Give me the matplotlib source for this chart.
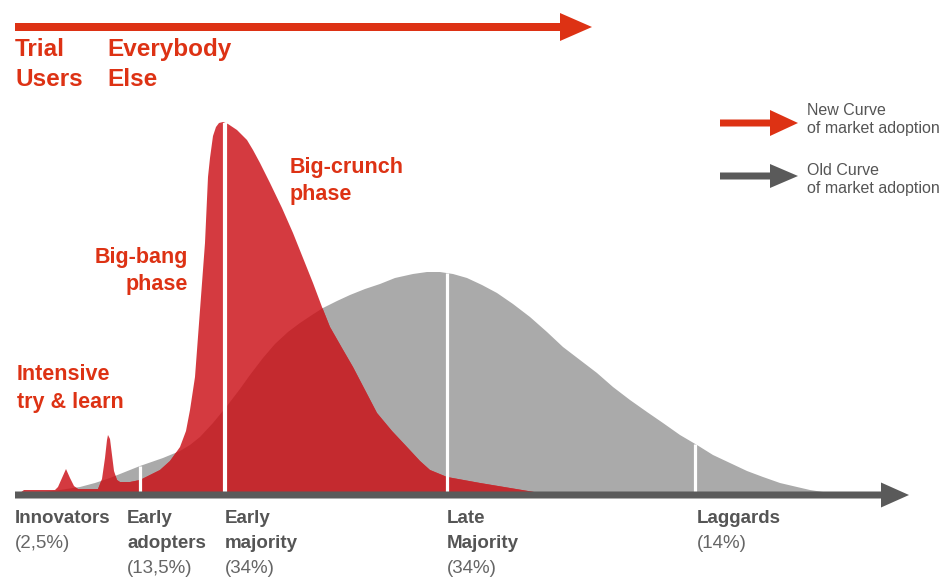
import numpy as np
import matplotlib.pyplot as plt

# ==================================================
# DATA (x in px along the time axis, h = height)
# ==================================================
old_x = [30, 45, 60, 80, 95, 110, 125, 140, 163, 180, 190, 200, 213, 227,
         240, 250, 263, 275, 288, 300, 312, 323, 337, 350, 365, 380, 395,
         413, 427, 440, 453, 467, 482, 497, 513, 530, 547, 563, 580, 597,
         613, 630, 647, 663, 680, 697, 713, 730, 747, 763, 780, 797, 810,
         823, 840]
old_h = [0, 1, 3, 6, 10, 15, 21, 27, 35, 42, 48, 56, 70, 87,
         104, 118, 135, 149, 161, 170, 178, 185, 192, 198, 204, 209, 215,
         219, 221, 221, 219, 215, 208, 200, 189, 176, 161, 146, 133, 120,
         106, 93, 81, 70, 58, 48, 38, 30, 22, 16, 10, 6, 3,
         1, 0]

new_x = [20, 24, 55, 58, 62, 66, 70, 74, 78, 98, 102, 105, 107, 108, 110,
         112, 114, 117, 120, 130, 140, 160, 170, 180, 186, 190, 195, 200,
         205, 208, 210, 213, 216, 219, 223, 228, 237, 247, 253, 260, 270,
         282, 293, 303, 313, 322, 330, 342, 353, 365, 377, 392, 407, 420,
         430, 447, 480, 510, 540]
new_h = [0, 3, 3, 6, 15, 24, 15, 7, 4, 4, 14, 35, 53, 58, 54,
         38, 22, 13, 11, 11, 13, 23, 32, 46, 62, 83, 116, 183,
         250, 316, 335, 357, 366, 370, 371, 369, 363, 353, 343, 330, 310,
         285, 260, 235, 210, 186, 166, 145, 126, 103, 80, 62, 46, 32,
         23, 16, 10, 5, 0]

# segment boundaries (white lines)
boundary_x = [140, 225, 447, 695]

stage_x = [15, 127, 225, 447, 697]
stage_names = [["Innovators"], ["Early", "adopters"], ["Early", "majority"],
               ["Late", "Majority"], ["Laggards"]]
stage_shares = ["(2,5%)", "(13,5%)", "(34%)", "(34%)", "(14%)"]

BASE = 493
RED = "#dd3214"
TXT_GRAY = "#555555"

plt.rcParams['font.family'] = ['Liberation Sans', 'DejaVu Sans']

fig = plt.figure(figsize=(9.46, 5.77), dpi=100)
ax = fig.add_axes([0, 0, 1, 1])
ax.set_xlim(0, 946)
ax.set_ylim(577, 0)
ax.axis("off")

# ==================================================
# CURVES
# ==================================================
old_y = [BASE - h for h in old_h]
new_y = [BASE - h for h in new_h]

gray_poly = ax.fill(old_x, old_y, color="#aaaaaa", lw=0, zorder=1)[0]
ax.fill(new_x, new_y, color="#d43a40", lw=0, zorder=2)
dark = ax.fill(new_x, new_y, color="#c42a2f", lw=0, zorder=3)[0]
dark.set_clip_path(gray_poly)

# white dividing lines up to the top of the curves
for bx in boundary_x:
    top = max(np.interp(bx, old_x, old_h), np.interp(bx, new_x, new_h))
    lw = 3.0 if bx == 225 else 2.3
    ax.plot([bx, bx], [BASE, BASE - top], color="white", lw=lw, zorder=4,
            solid_capstyle="butt")

# ==================================================
# ARROWS
# ==================================================
ax.arrow(15, 495, 894, 0, width=7, head_width=25, head_length=28,
         length_includes_head=True, color="#5a5a5a", lw=0, zorder=5)
ax.arrow(15, 27, 577, 0, width=8, head_width=28, head_length=32,
         length_includes_head=True, color=RED, lw=0, zorder=5)
ax.arrow(720, 123, 78, 0, width=7, head_width=26, head_length=28,
         length_includes_head=True, color=RED, lw=0, zorder=5)
ax.arrow(720, 176, 78, 0, width=7, head_width=24, head_length=28,
         length_includes_head=True, color="#5a5a5a", lw=0, zorder=5)

# ==================================================
# TEXT
# ==================================================
def lines(x, y0, texts, step, **kw):
    for i, t in enumerate(texts):
        ax.text(x, y0 + i * step, t, va="baseline", **kw)

big = dict(color=RED, fontweight="bold", fontsize=17.5)
lines(15, 56, ["Trial", "Users"], 30, **big)
lines(107, 56, ["Everybody", "Else"], 30, **big)

mid = dict(color=RED, fontweight="bold", fontsize=15.5)
lines(17, 380, ["Intensive", "try & learn"], 28, **mid)
lines(188, 263, ["Big-bang", "phase"], 27, ha="right", **mid)
lines(290, 173, ["Big-crunch", "phase"], 27, **mid)

for x, names, share in zip(stage_x, stage_names, stage_shares):
    lines(x, 523, names, 25, color=TXT_GRAY, fontweight="bold", fontsize=13.5)
    ax.text(x, 523 + 25 * len(names), share, va="baseline", color="#666666",
            fontsize=13.5)

leg = dict(color=TXT_GRAY, fontsize=11.5)
lines(807, 115, ["New Curve", "of market adoption"], 18, **leg)
lines(807, 175, ["Old Curve", "of market adoption"], 18, **leg)

fig.savefig("out.png", dpi=100)
